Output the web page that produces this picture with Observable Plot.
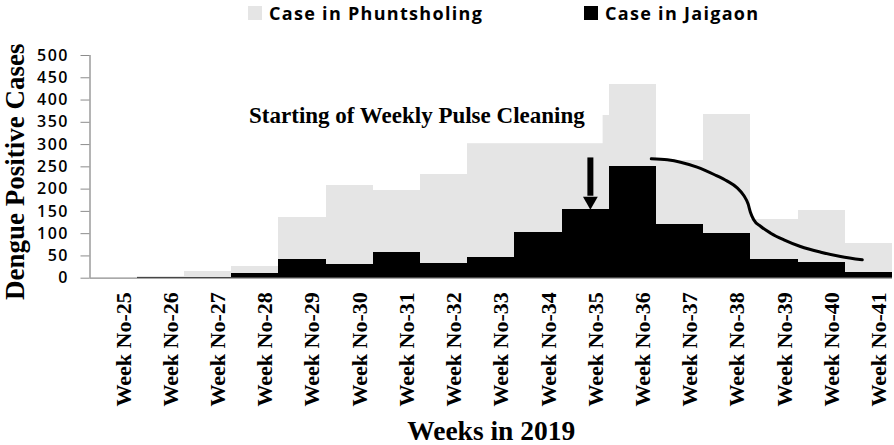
<!DOCTYPE html>
<html><head><meta charset="utf-8">
<script src="https://cdn.jsdelivr.net/npm/d3@7"></script>
<script src="https://cdn.jsdelivr.net/npm/@observablehq/plot@0.6"></script>
<style>
body{margin:0;background:#fff;}
#legend{position:relative;height:25px;width:894px;font-family:"Open Sans",sans-serif;font-weight:700;font-size:18px;letter-spacing:1.3px;color:#000;}
.sw{position:absolute;top:6px;width:14px;height:14px;}
.lt{position:absolute;top:3.5px;line-height:18px;white-space:nowrap;}
g[aria-label="y-axis tick label"]{letter-spacing:1.5px;}
</style></head><body>
<div id="legend"></div>
<div id="chart"></div>
<script>
// Data
const weeks = [25,26,27,28,29,30,31,32,33,34,35,36,37,38,39,40,41];
const weekLabels = ["Week No-25","Week No-26","Week No-27","Week No-28","Week No-29","Week No-30","Week No-31","Week No-32","Week No-33","Week No-34","Week No-35","Week No-36","Week No-37","Week No-38","Week No-39","Week No-40","Week No-41"];
const phuntsholing = [0,3,15,26,137,208,198,233,302,302,365,436,264,367,132,152,77];
const jaigaon = [0,2,2,10,41,30,58,34,46,102,154,251,120,100,41,35,12];
const seriesNames = ["Case in Phuntsholing","Case in Jaigaon"];
const seriesColors = ["#e5e5e5","#000000"];
const yTicks = [0,50,100,150,200,250,300,350,400,450,500];
const yTitle = "Dengue Positive Cases";
const xTitle = "Weeks in 2019";
const annotation = "Starting of Weekly Pulse Cleaning";
// trend curve drawn over the decline (week, cases)
const curveWeek = [36.39,36.73,37.01,37.36,37.72,38.00,38.21,38.35,38.44,38.49,38.56,38.71,38.92,39.20,39.55,39.98,40.40,40.86];
const curveCases = [268,265.7,260.5,249.3,232.8,217.9,202.9,185.7,167,148.2,131.1,116.1,101.1,86.1,71.2,58.4,48.7,41.2];
// arrow marking the start of cleaning
const arrowWeek = [35.1];
const arrowFrom = [270];
const arrowTo = [154];
// white label box of the annotation (hides the top of bars behind it)
const labelBox = [{x1:27.7, x2:35.37, y1:302, y2:430}];

// Legend
const legend = document.getElementById("legend");
const legendX = [248, 584];
seriesNames.forEach((n,i)=>{
  const s = document.createElement("div"); s.className="sw";
  s.style.left = legendX[i]+"px"; s.style.background = seriesColors[i];
  legend.appendChild(s);
  const t = document.createElement("div"); t.className="lt";
  t.style.left = (legendX[i]+21)+"px"; t.textContent = n;
  legend.appendChild(t);
});

const data = weeks.map((w,i)=>({week:w, p:phuntsholing[i], j:jaigaon[i]}));
const curve = curveWeek.map((w,i)=>({week:w, v:curveCases[i]}));
const arrow = arrowWeek.map((w,i)=>({week:w, from:arrowFrom[i], to:arrowTo[i]}));
const serif = "'Liberation Serif','Times New Roman',serif";

const chart = Plot.plot({
  width: 894, height: 420,
  marginTop: 30, marginBottom: 167.3, marginLeft: 89.5, marginRight: 2,
  x: {type: "linear", domain: [24.5, 41.5]},
  y: {domain: [0, 500]},
  style: {background: "white", overflow: "visible"},
  marks: [
    Plot.rect(data, {x1: d=>d.week-0.5, x2: d=>d.week+0.5, y1: 0, y2: "p", fill: seriesColors[0], shapeRendering: "crispEdges"}),
    Plot.rect(labelBox, {x1:"x1", x2:"x2", y1:"y1", y2:"y2", fill:"white"}),
    Plot.rect(data, {x1: d=>d.week-0.5, x2: d=>d.week+0.5, y1: 0, y2: "j", fill: seriesColors[1], shapeRendering: "crispEdges"}),
    Plot.ruleY([0], {stroke: "#8c8c8c", strokeWidth: 1.3}),
    Plot.ruleX([24.5], {y1: 0, y2: 500, stroke: "#8c8c8c", strokeWidth: 1.3}),
    Plot.axisY({ticks: yTicks, tickSize: 9, tickPadding: 12, stroke: "#8c8c8c", fill: "black", fontSize: 16, fontFamily: "'Open Sans',sans-serif", fontWeight: 600, label: null}),
    Plot.axisX({ticks: weeks, tickSize: 0, tickPadding: 14, tickRotate: -90, tickFormat: d => weekLabels[weeks.indexOf(d)], fill: "black", fontSize: 22, fontFamily: serif, fontWeight: "bold", dx: 10, label: null}),
    Plot.text([yTitle], {frameAnchor: "left", textAnchor: "middle", rotate: -90, dx: -75, dy: 5, fontSize: 27, fontFamily: serif, fontWeight: "bold", fill: "black"}),
    Plot.text([xTitle], {frameAnchor: "bottom", dy: 162, fontSize: 27.5, fontFamily: serif, fontWeight: "bold", fill: "black"}),
    Plot.text([annotation], {x: 34.98, y: 365, textAnchor: "end", fontSize: 23, fontFamily: serif, fontWeight: "bold", fill: "black"}),
    Plot.line(curve, {x: "week", y: "v", curve: "monotone-x", stroke: "black", strokeWidth: 3}),
    Plot.ruleX(arrow, {x: "week", y1: "from", y2: d => d.to + 30, stroke: "black", strokeWidth: 6}),
    Plot.dot(arrow, {x: "week", y: "to", symbol: "triangle", r: 5.5, rotate: 180, dy: -8.5, fill: "black", stroke: null})
  ]
});
document.getElementById("chart").appendChild(chart);
</script>
</body></html>
